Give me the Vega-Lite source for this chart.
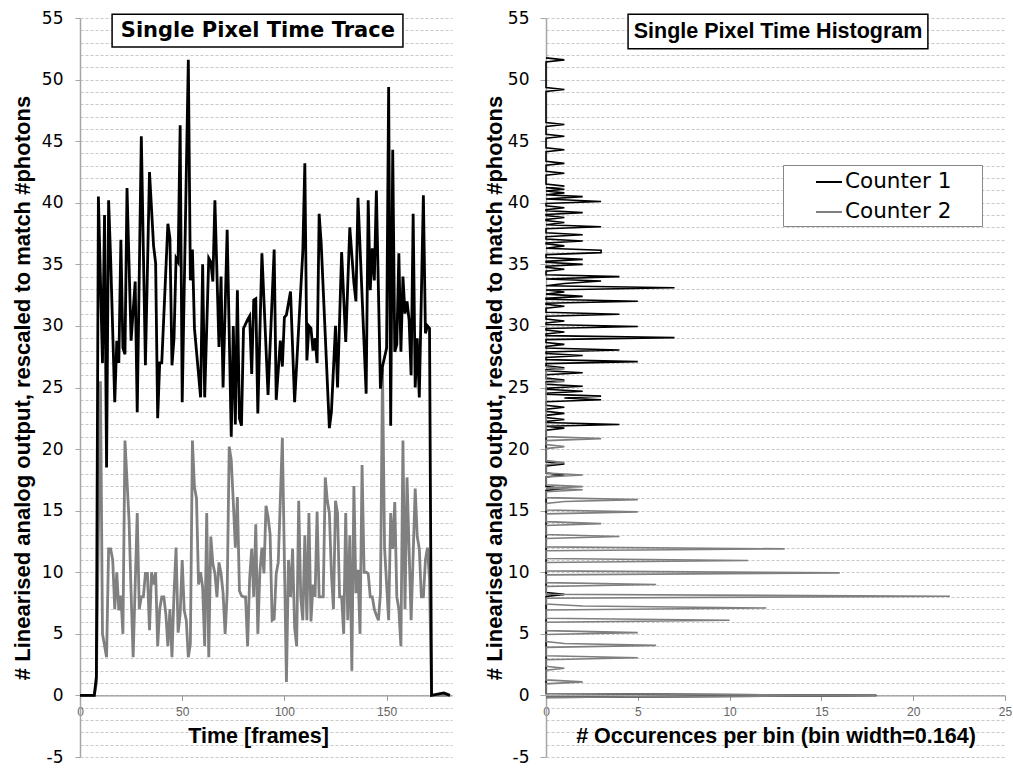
{
"$schema": "https://vega.github.io/schema/vega-lite/v6.json",
"background": "white",
"padding": {"left": 11, "top": 9, "right": 0, "bottom": 0},
"spacing": 27,
"resolve": {"scale": {"color": "independent"}, "legend": {"color": "independent"}},
"config": {"view": {"stroke": null}},
"datasets": {
"trace1": [{"t":0,"v":0},{"t":7,"v":0},{"t":8,"v":1.5},{"t":9,"v":40.5},{"t":11,"v":27},{"t":12,"v":39},{"t":13,"v":18.5},{"t":14,"v":40.2},{"t":15,"v":35.4},{"t":17,"v":23.8},{"t":18,"v":28.8},{"t":19,"v":27},{"t":20,"v":37},{"t":21,"v":28.2},{"t":22,"v":27.7},{"t":23,"v":41.2},{"t":25,"v":28.8},{"t":27,"v":33.6},{"t":28,"v":23},{"t":30,"v":45.4},{"t":32,"v":26.8},{"t":34,"v":42.5},{"t":36,"v":36.5},{"t":37,"v":35.1},{"t":38,"v":22.5},{"t":39,"v":27},{"t":40,"v":27},{"t":43,"v":38.3},{"t":44,"v":37.1},{"t":45,"v":26.8},{"t":46,"v":29},{"t":47,"v":35.5},{"t":48,"v":35.2},{"t":49,"v":46.3},{"t":50,"v":23.8},{"t":53,"v":51.6},{"t":54,"v":33.7},{"t":55,"v":36.2},{"t":56,"v":29.8},{"t":59,"v":24.2},{"t":60,"v":35},{"t":61,"v":24.2},{"t":63,"v":35.5},{"t":64,"v":35.2},{"t":65,"v":33.6},{"t":66,"v":40.2},{"t":68,"v":28.3},{"t":69,"v":34},{"t":70,"v":25},{"t":72,"v":37.8},{"t":74,"v":21},{"t":75,"v":30},{"t":76,"v":22},{"t":77,"v":32.9},{"t":78,"v":22.5},{"t":79,"v":21.9},{"t":80,"v":29.8},{"t":82,"v":30.5},{"t":83,"v":30.8},{"t":84,"v":26.1},{"t":85,"v":32.1},{"t":86,"v":32.2},{"t":87,"v":22.9},{"t":89,"v":35.9},{"t":92,"v":24.4},{"t":95,"v":36.2},{"t":96,"v":24},{"t":98,"v":28.8},{"t":99,"v":26.7},{"t":100,"v":30.7},{"t":101,"v":30.9},{"t":103,"v":32.8},{"t":105,"v":23.8},{"t":109,"v":36},{"t":110,"v":43.2},{"t":111,"v":27.2},{"t":112,"v":30},{"t":113,"v":29.8},{"t":114,"v":28},{"t":115,"v":29},{"t":116,"v":27},{"t":117,"v":39.1},{"t":118,"v":36.7},{"t":122,"v":21.7},{"t":123,"v":23},{"t":125,"v":30},{"t":126,"v":25},{"t":128,"v":36},{"t":130,"v":28.7},{"t":132,"v":38},{"t":134,"v":33.5},{"t":135,"v":32},{"t":136,"v":40.4},{"t":140,"v":24.5},{"t":141,"v":40.2},{"t":142,"v":32.9},{"t":143,"v":36.3},{"t":144,"v":33.7},{"t":145,"v":41},{"t":147,"v":24.9},{"t":148,"v":26.7},{"t":150,"v":28.2},{"t":151,"v":49.4},{"t":152,"v":21.9},{"t":153,"v":44.3},{"t":154,"v":27.9},{"t":155,"v":28.5},{"t":156,"v":35.9},{"t":157,"v":27.9},{"t":158,"v":34},{"t":159,"v":31},{"t":160,"v":32},{"t":161,"v":30.5},{"t":162,"v":26},{"t":163,"v":39.1},{"t":164,"v":25},{"t":165,"v":29},{"t":166,"v":24.2},{"t":168,"v":40.6},{"t":169,"v":29.4},{"t":170,"v":30},{"t":171,"v":29.8},{"t":172,"v":0},{"t":175,"v":0.1},{"t":178,"v":0.2},{"t":181,"v":0}],
"trace2": [{"t":0,"v":0},{"t":7,"v":0},{"t":8,"v":1},{"t":10,"v":25.5},{"t":11,"v":5},{"t":13,"v":3.1},{"t":14,"v":11.9},{"t":15,"v":11.9},{"t":16,"v":11},{"t":17,"v":7},{"t":18,"v":10},{"t":19,"v":6.9},{"t":20,"v":8.1},{"t":21,"v":5},{"t":22,"v":20.7},{"t":24,"v":14.2},{"t":25,"v":8.3},{"t":26,"v":3.1},{"t":28,"v":14.8},{"t":29,"v":7},{"t":30,"v":8},{"t":31,"v":8},{"t":32,"v":9.9},{"t":33,"v":9.9},{"t":34,"v":5.3},{"t":35,"v":10},{"t":36,"v":9},{"t":37,"v":10},{"t":38,"v":4},{"t":39,"v":7},{"t":40,"v":8},{"t":41,"v":8},{"t":42,"v":6.6},{"t":43,"v":4},{"t":44,"v":7},{"t":45,"v":3.1},{"t":46,"v":8.3},{"t":47,"v":12},{"t":48,"v":5.1},{"t":49,"v":6.6},{"t":50,"v":11},{"t":51,"v":6.9},{"t":52,"v":6.1},{"t":53,"v":3.1},{"t":54,"v":4.2},{"t":55,"v":20.7},{"t":56,"v":16.9},{"t":57,"v":16},{"t":58,"v":9},{"t":59,"v":10},{"t":60,"v":8.8},{"t":61,"v":4},{"t":62,"v":14.8},{"t":63,"v":3.1},{"t":64,"v":12.9},{"t":65,"v":10.7},{"t":66,"v":9.9},{"t":67,"v":8},{"t":68,"v":10.8},{"t":69,"v":9.9},{"t":70,"v":8.3},{"t":71,"v":5},{"t":72,"v":8.3},{"t":73,"v":20.2},{"t":74,"v":19.1},{"t":75,"v":15.7},{"t":76,"v":12},{"t":77,"v":16.1},{"t":78,"v":8.5},{"t":79,"v":8.1},{"t":80,"v":8},{"t":81,"v":8},{"t":82,"v":4},{"t":83,"v":9.5},{"t":84,"v":11.9},{"t":85,"v":8},{"t":86,"v":13.9},{"t":87,"v":5},{"t":88,"v":10},{"t":89,"v":12},{"t":90,"v":9.9},{"t":91,"v":15.4},{"t":92,"v":14.5},{"t":93,"v":13.1},{"t":94,"v":6.1},{"t":95,"v":6.2},{"t":96,"v":9.9},{"t":97,"v":10.8},{"t":99,"v":20.9},{"t":101,"v":1.1},{"t":102,"v":11},{"t":103,"v":8},{"t":104,"v":11.9},{"t":105,"v":5.5},{"t":106,"v":4},{"t":107,"v":15.8},{"t":108,"v":8},{"t":109,"v":6.1},{"t":110,"v":13},{"t":111,"v":6.1},{"t":112,"v":14.8},{"t":113,"v":6},{"t":114,"v":9},{"t":115,"v":8},{"t":116,"v":14.9},{"t":117,"v":8},{"t":118,"v":8},{"t":119,"v":8},{"t":120,"v":17.7},{"t":121,"v":15.8},{"t":122,"v":14.8},{"t":123,"v":9.9},{"t":124,"v":7},{"t":125,"v":15.8},{"t":126,"v":14.8},{"t":127,"v":8},{"t":128,"v":8},{"t":129,"v":5},{"t":130,"v":14.8},{"t":131,"v":6.1},{"t":132,"v":13},{"t":133,"v":2},{"t":134,"v":17},{"t":135,"v":8.3},{"t":136,"v":10.2},{"t":137,"v":5},{"t":138,"v":18.7},{"t":139,"v":10},{"t":140,"v":10},{"t":141,"v":9.9},{"t":142,"v":8},{"t":143,"v":8},{"t":144,"v":7},{"t":145,"v":6.5},{"t":146,"v":6.1},{"t":147,"v":8.3},{"t":148,"v":26.5},{"t":149,"v":12},{"t":151,"v":6.1},{"t":152,"v":14.8},{"t":153,"v":11.9},{"t":154,"v":15.7},{"t":155,"v":8},{"t":156,"v":7},{"t":157,"v":4},{"t":158,"v":20.7},{"t":159,"v":7},{"t":160,"v":17.7},{"t":161,"v":11.9},{"t":162,"v":6.1},{"t":164,"v":16.8},{"t":165,"v":12.9},{"t":166,"v":11.9},{"t":167,"v":8},{"t":168,"v":8},{"t":169,"v":11},{"t":170,"v":12},{"t":171,"v":9.4},{"t":172,"v":0},{"t":181,"v":0}],
"hist1": [{"y":-0.16,"n":0},{"y":0,"n":18},{"y":0.16,"n":0},{"y":8.04,"n":0},{"y":8.2,"n":1},{"y":8.36,"n":0},{"y":16.64,"n":0},{"y":16.8,"n":1},{"y":16.96,"n":0},{"y":17.74,"n":0},{"y":17.9,"n":1},{"y":18.06,"n":0},{"y":18.64,"n":0},{"y":18.8,"n":1},{"y":18.96,"n":0},{"y":21.54,"n":0},{"y":21.7,"n":1},{"y":21.85,"n":0},{"y":22.0,"n":4},{"y":22.16,"n":0},{"y":22.24,"n":0},{"y":22.4,"n":1},{"y":22.56,"n":0},{"y":22.74,"n":0},{"y":22.9,"n":1},{"y":23.06,"n":0},{"y":23.24,"n":0},{"y":23.4,"n":1},{"y":23.56,"n":0},{"y":23.84,"n":0},{"y":24.0,"n":3},{"y":24.15,"n":1},{"y":24.3,"n":3},{"y":24.46,"n":0},{"y":24.54,"n":0},{"y":24.7,"n":2},{"y":24.86,"n":0},{"y":24.94,"n":0},{"y":25.1,"n":2},{"y":25.26,"n":0},{"y":25.44,"n":0},{"y":25.6,"n":1},{"y":25.76,"n":0},{"y":26.04,"n":0},{"y":26.2,"n":2},{"y":26.36,"n":0},{"y":26.44,"n":0},{"y":26.6,"n":1},{"y":26.76,"n":0},{"y":26.94,"n":0},{"y":27.1,"n":5},{"y":27.26,"n":0},{"y":27.44,"n":0},{"y":27.6,"n":2},{"y":27.76,"n":0},{"y":27.89,"n":0},{"y":28.05,"n":4},{"y":28.21,"n":0},{"y":28.34,"n":0},{"y":28.5,"n":1},{"y":28.66,"n":0},{"y":28.89,"n":0},{"y":29.05,"n":7},{"y":29.21,"n":0},{"y":29.34,"n":0},{"y":29.5,"n":1},{"y":29.66,"n":0},{"y":29.79,"n":0},{"y":29.95,"n":5},{"y":30.11,"n":0},{"y":30.24,"n":0},{"y":30.4,"n":1},{"y":30.56,"n":0},{"y":30.79,"n":0},{"y":30.95,"n":4},{"y":31.11,"n":0},{"y":31.44,"n":0},{"y":31.6,"n":1},{"y":31.76,"n":0},{"y":31.84,"n":0},{"y":32.0,"n":5},{"y":32.16,"n":0},{"y":32.24,"n":0},{"y":32.4,"n":2},{"y":32.58,"n":0},{"y":32.75,"n":1},{"y":32.91,"n":0},{"y":33.1,"n":7},{"y":33.26,"n":0},{"y":33.45,"n":1},{"y":33.65,"n":3},{"y":33.81,"n":0},{"y":34.0,"n":4},{"y":34.16,"n":0},{"y":34.44,"n":0},{"y":34.6,"n":1},{"y":34.76,"n":0},{"y":34.84,"n":0},{"y":35.0,"n":2},{"y":35.16,"n":0},{"y":35.24,"n":0},{"y":35.4,"n":2},{"y":35.56,"n":0},{"y":35.79,"n":0},{"y":35.95,"n":3},{"y":36.15,"n":3},{"y":36.31,"n":0},{"y":36.5,"n":1},{"y":36.66,"n":0},{"y":36.74,"n":0},{"y":36.9,"n":2},{"y":37.06,"n":0},{"y":37.24,"n":0},{"y":37.4,"n":2},{"y":37.56,"n":0},{"y":37.89,"n":0},{"y":38.05,"n":3},{"y":38.21,"n":0},{"y":38.4,"n":1},{"y":38.56,"n":0},{"y":38.64,"n":0},{"y":38.8,"n":1},{"y":38.96,"n":0},{"y":39.04,"n":0},{"y":39.2,"n":2},{"y":39.36,"n":0},{"y":39.44,"n":0},{"y":39.6,"n":1},{"y":39.76,"n":0},{"y":39.94,"n":0},{"y":40.1,"n":3},{"y":40.3,"n":0},{"y":40.5,"n":2},{"y":40.65,"n":0},{"y":40.8,"n":1},{"y":40.95,"n":0},{"y":41.1,"n":1},{"y":41.22,"n":0},{"y":41.35,"n":1},{"y":41.51,"n":0},{"y":42.24,"n":0},{"y":42.4,"n":1},{"y":42.56,"n":0},{"y":43.04,"n":0},{"y":43.2,"n":1},{"y":43.36,"n":0},{"y":44.14,"n":0},{"y":44.3,"n":1},{"y":44.46,"n":0},{"y":45.24,"n":0},{"y":45.4,"n":1},{"y":45.56,"n":0},{"y":46.19,"n":0},{"y":46.35,"n":1},{"y":46.51,"n":0},{"y":49.04,"n":0},{"y":49.2,"n":1},{"y":49.36,"n":0},{"y":51.44,"n":0},{"y":51.6,"n":1},{"y":51.76,"n":0}],
"hist2": [{"y":-0.16,"n":0},{"y":0,"n":18},{"y":0.16,"n":0},{"y":0.94,"n":0},{"y":1.1,"n":2},{"y":1.26,"n":0},{"y":2.04,"n":0},{"y":2.2,"n":1},{"y":2.36,"n":0},{"y":2.9,"n":0},{"y":3.06,"n":5},{"y":3.22,"n":0},{"y":3.9,"n":0},{"y":4.06,"n":6},{"y":4.22,"n":1},{"y":4.38,"n":0},{"y":4.94,"n":0},{"y":5.1,"n":5},{"y":5.26,"n":0},{"y":5.94,"n":0},{"y":6.1,"n":10},{"y":6.26,"n":0},{"y":6.94,"n":0},{"y":7.1,"n":12},{"y":7.26,"n":2},{"y":7.42,"n":0},{"y":7.89,"n":0},{"y":8.05,"n":22},{"y":8.21,"n":0},{"y":8.84,"n":0},{"y":9.0,"n":6},{"y":9.16,"n":0},{"y":9.79,"n":0},{"y":9.95,"n":16},{"y":10.11,"n":0},{"y":10.79,"n":0},{"y":10.95,"n":11},{"y":11.11,"n":0},{"y":11.74,"n":0},{"y":11.9,"n":13},{"y":12.06,"n":0},{"y":12.74,"n":0},{"y":12.9,"n":4},{"y":13.06,"n":0},{"y":13.79,"n":0},{"y":13.95,"n":3},{"y":14.11,"n":0},{"y":14.74,"n":0},{"y":14.9,"n":5},{"y":15.06,"n":0},{"y":15.59,"n":0},{"y":15.75,"n":1},{"y":15.9,"n":5},{"y":16.06,"n":0},{"y":16.54,"n":0},{"y":16.7,"n":2},{"y":16.83,"n":0},{"y":16.95,"n":2},{"y":17.11,"n":0},{"y":17.74,"n":0},{"y":17.9,"n":2},{"y":18.06,"n":0},{"y":18.74,"n":0},{"y":18.9,"n":1},{"y":19.06,"n":0},{"y":20.04,"n":0},{"y":20.2,"n":1},{"y":20.36,"n":0},{"y":20.69,"n":0},{"y":20.85,"n":3},{"y":21.01,"n":0},{"y":25.34,"n":0},{"y":25.5,"n":1},{"y":25.66,"n":0},{"y":26.34,"n":0},{"y":26.5,"n":1},{"y":26.66,"n":0}]
},
"hconcat": [
{
"width": 372, "height": 739,
"layer": [
{"data": {"name": "trace2"}, "mark": {"type": "line", "color": "#808080", "strokeWidth": 2.8},
 "encoding": {
  "x": {"field": "t", "type": "quantitative", "scale": {"domain": [0, 182], "nice": false, "zero": false},
   "axis": {"values": [0, 50, 100, 150], "grid": false, "offset": -61.6, "domainColor": "#999999", "domainWidth": 1.2, "tickColor": "#999999", "tickSize": 5, "labelFont": "Liberation Sans", "labelFontSize": 12, "labelColor": "#666666", "labelPadding": 6, "labelFlush": false, "title": "Time [frames]", "titleFont": "Liberation Sans", "titleFontSize": 21.5, "titleFontWeight": "bold", "titleColor": "#000000", "titlePadding": 8, "titleX": 178}},
  "y": {"field": "v", "type": "quantitative", "scale": {"domain": [-5, 55], "nice": false, "zero": false},
   "axis": {"values": [-5,-4,-3,-2,-1,0,1,2,3,4,5,6,7,8,9,10,11,12,13,14,15,16,17,18,19,20,21,22,23,24,25,26,27,28,29,30,31,32,33,34,35,36,37,38,39,40,41,42,43,44,45,46,47,48,49,50,51,52,53,54,55],
    "tickCount": 200, "format": "d",
    "labelExpr": "datum.value % 5 === 0 ? (datum.value < 0 ? '-' + abs(datum.value) : '' + datum.value) : ''", "labelOverlap": false,
    "tickOpacity": {"condition": {"test": "datum.value % 5 === 0", "value": 1}, "value": 0},
    "grid": true, "gridColor": "#c8c8c8", "gridDash": [3, 2], "gridWidth": 1,
    "domainColor": "#a6a6a6", "domainWidth": 1.5, "tickColor": "#a6a6a6", "tickSize": 5, "labelPadding": 12,
    "labelFont": "DejaVu Sans", "labelFontSize": 17, "labelColor": "#000000",
    "title": "# Linearised analog output, rescaled to match #photons", "titleFont": "Liberation Sans", "titleFontSize": 22, "titleFontWeight": "bold", "titleColor": "#000000", "titlePadding": 7}}
 }},
{"data": {"name": "trace1"}, "mark": {"type": "line", "color": "#000000", "strokeWidth": 2.8},
 "encoding": {"x": {"field": "t", "type": "quantitative"}, "y": {"field": "v", "type": "quantitative"}}},
{"data": {"values": [{}]}, "mark": {"type": "rect", "fill": "white", "stroke": "#000000", "strokeWidth": 1.5},
 "encoding": {"x": {"datum": 15.7}, "x2": {"datum": 158}, "y": {"datum": 55.3}, "y2": {"datum": 52.65}}},
{"data": {"values": [{}]}, "mark": {"type": "text", "text": "Single Pixel Time Trace", "font": "DejaVu Sans", "fontWeight": "bold", "fontSize": 21, "align": "center", "baseline": "middle", "color": "#000000"},
 "encoding": {"x": {"datum": 87}, "y": {"datum": 53.95}}}
]
},
{
"width": 459, "height": 739,
"layer": [
{"data": {"name": "hist1"}, "mark": {"type": "line", "strokeWidth": 1.6},
 "encoding": {
  "x": {"field": "n", "type": "quantitative", "scale": {"domain": [0, 25], "nice": false},
   "axis": {"values": [0, 5, 10, 15, 20, 25], "grid": false, "offset": -61.6, "domainColor": "#999999", "domainWidth": 1.2, "tickColor": "#999999", "tickSize": 5, "labelFont": "Liberation Sans", "labelFontSize": 12, "labelColor": "#666666", "labelPadding": 6, "labelFlush": false, "title": "# Occurences per bin (bin width=0.164)", "titleFont": "Liberation Sans", "titleFontSize": 21.5, "titleFontWeight": "bold", "titleColor": "#000000", "titlePadding": 8}},
  "y": {"field": "y", "type": "quantitative", "scale": {"domain": [-5, 55], "nice": false, "zero": false},
   "axis": {"values": [-5,-4,-3,-2,-1,0,1,2,3,4,5,6,7,8,9,10,11,12,13,14,15,16,17,18,19,20,21,22,23,24,25,26,27,28,29,30,31,32,33,34,35,36,37,38,39,40,41,42,43,44,45,46,47,48,49,50,51,52,53,54,55],
    "tickCount": 200, "format": "d",
    "labelExpr": "datum.value % 5 === 0 ? (datum.value < 0 ? '-' + abs(datum.value) : '' + datum.value) : ''", "labelOverlap": false,
    "tickOpacity": {"condition": {"test": "datum.value % 5 === 0", "value": 1}, "value": 0},
    "grid": true, "gridColor": "#c8c8c8", "gridDash": [3, 2], "gridWidth": 1,
    "domainColor": "#a6a6a6", "domainWidth": 1.5, "tickColor": "#a6a6a6", "tickSize": 6, "labelPadding": 11,
    "labelFont": "DejaVu Sans", "labelFontSize": 17, "labelColor": "#000000",
    "title": "# Linearised analog output, rescaled to match #photons", "titleFont": "Liberation Sans", "titleFontSize": 22, "titleFontWeight": "bold", "titleColor": "#000000", "titlePadding": 1}},
  "order": {"field": "y", "type": "quantitative"},
  "color": {"datum": "Counter 1", "type": "nominal",
   "scale": {"domain": ["Counter 1", "Counter 2"], "range": ["#000000", "#7f7f7f"]},
   "legend": {"orient": "none", "legendX": 237, "legendY": 147, "title": null, "symbolType": "stroke", "symbolSize": 676, "symbolStrokeWidth": 2, "labelFont": "DejaVu Sans", "labelFontSize": 21.5, "labelColor": "#000000", "labelOffset": 2, "symbolOffset": 29, "padding": 3, "rowPadding": 5, "fillColor": "white", "strokeColor": "#888888", "labelExpr": "datum.label + '\u00a0\u00a0\u00a0\u00a0\u200b'"}}
 }},
{"data": {"name": "hist2"}, "mark": {"type": "line", "strokeWidth": 1.6},
 "encoding": {"x": {"field": "n", "type": "quantitative"}, "y": {"field": "y", "type": "quantitative"}, "order": {"field": "y", "type": "quantitative"}, "color": {"datum": "Counter 2", "type": "nominal"}}},
{"data": {"values": [{}]}, "mark": {"type": "rect", "fill": "white", "stroke": "#000000", "strokeWidth": 1.5},
 "encoding": {"x": {"datum": 4.47}, "x2": {"datum": 20.8}, "y": {"datum": 55.3}, "y2": {"datum": 52.5}}},
{"data": {"values": [{}]}, "mark": {"type": "text", "text": "Single Pixel Time Histogram", "font": "Liberation Sans", "fontWeight": "bold", "fontSize": 21.5, "align": "center", "baseline": "middle", "color": "#000000"},
 "encoding": {"x": {"datum": 12.64}, "y": {"datum": 53.9}}}
]
}
]
}
